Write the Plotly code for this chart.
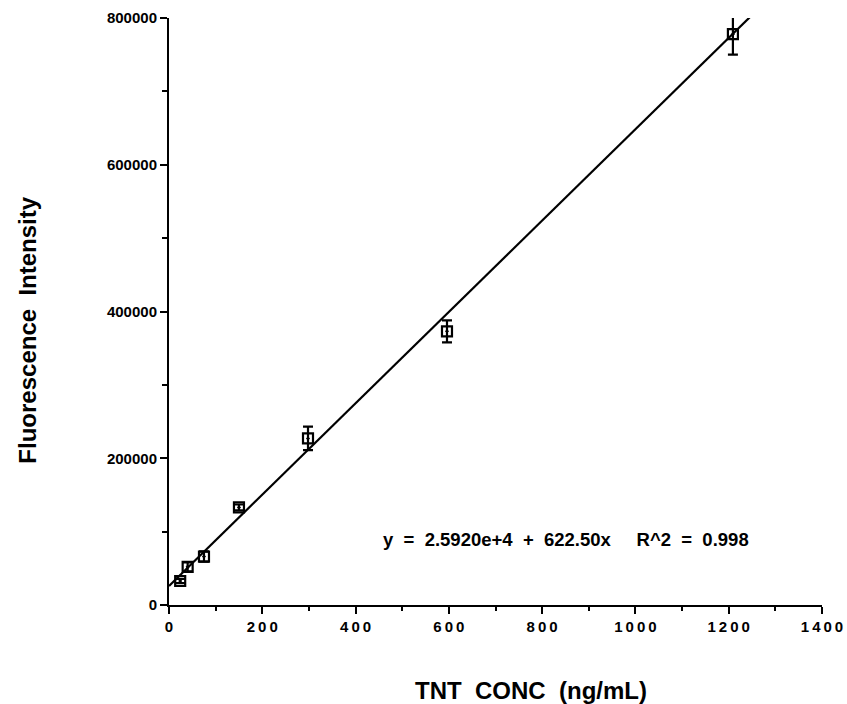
import plotly.graph_objects as go

# Data
conc = [24, 40, 75, 150, 298, 596, 1209]
intensity = [32700, 52000, 66000, 133000, 227000, 373000, 778000]
err = [3000, 6000, 7000, 4000, 16000, 15000, 28000]

fit_intercept = 25920
fit_slope = 622.50
fit_x = [0, 1250]
fit_y = [fit_intercept + fit_slope * v for v in fit_x]

x_tick_vals = [0, 200, 400, 600, 800, 1000, 1200, 1400]
x_tick_text = ["\u2009".join(str(v)) for v in x_tick_vals]
y_tick_vals = [0, 200000, 400000, 600000, 800000]
y_tick_text = ["0", "200000", "400000", "600000", "800000"]

FONT = "Liberation Sans"
NB = "\u00a0"

fig = go.Figure()
fig.add_trace(go.Scatter(
    x=fit_x, y=fit_y, mode="lines",
    line=dict(color="black", width=2.2), showlegend=False, cliponaxis=False,
))
fig.add_trace(go.Scatter(
    x=conc, y=intensity, mode="markers",
    marker=dict(symbol="square-open-dot", size=10, color="black",
                line=dict(color="black", width=2.2)),
    error_y=dict(type="data", array=err, visible=True, color="black",
                 thickness=2.2, width=5),
    showlegend=False, cliponaxis=False,
))

axis_common = dict(
    showline=True, linecolor="black", linewidth=2, mirror=False,
    ticks="outside", ticklen=7, tickwidth=2, tickcolor="black",
    showgrid=False, zeroline=False, automargin=False,
    tickfont=dict(family=FONT, size=15, color="black", weight="bold"),
)

fig.update_xaxes(range=[0, 1400], tickvals=x_tick_vals, ticktext=x_tick_text,
                 minor=dict(dtick=100, ticks="outside", ticklen=4,
                            tickwidth=2, tickcolor="black"),
                 **axis_common)
fig.update_yaxes(range=[0, 800000], tickvals=y_tick_vals, ticktext=y_tick_text,
                 minor=dict(dtick=100000, ticks="outside", ticklen=5,
                            tickwidth=2, tickcolor="black"),
                 **axis_common)

fig.add_annotation(
    text="Fluorescence" + NB * 2 + "Intensity", xref="paper", yref="paper",
    x=-0.216, y=0.469, xanchor="center", yanchor="middle",
    textangle=-90, showarrow=False,
    font=dict(family=FONT, size=24, color="black", weight="bold"),
)
fig.add_annotation(
    text="TNT" + NB * 2 + "CONC" + NB * 2 + "(ng/mL)", xref="paper", yref="paper",
    x=0.554, y=-0.145, xanchor="center", yanchor="middle", showarrow=False,
    font=dict(family=FONT, size=24, color="black", weight="bold"),
)
fig.add_annotation(
    text=("y" + NB * 2 + "=" + NB * 2 + "2.5920e+4" + NB * 2 + "+" + NB * 2 +
          "622.50x" + NB * 5 + "R^2" + NB * 2 + "=" + NB * 2 + "0.998"),
    xref="x", yref="y", x=455, y=88700, xanchor="left", yanchor="middle",
    showarrow=False,
    font=dict(family=FONT, size=18.5, color="black", weight="bold"),
)

fig.update_layout(
    width=847, height=704,
    margin=dict(l=169, r=25, t=18, b=99),
    paper_bgcolor="white", plot_bgcolor="white",
)

fig.write_html("out.html")
